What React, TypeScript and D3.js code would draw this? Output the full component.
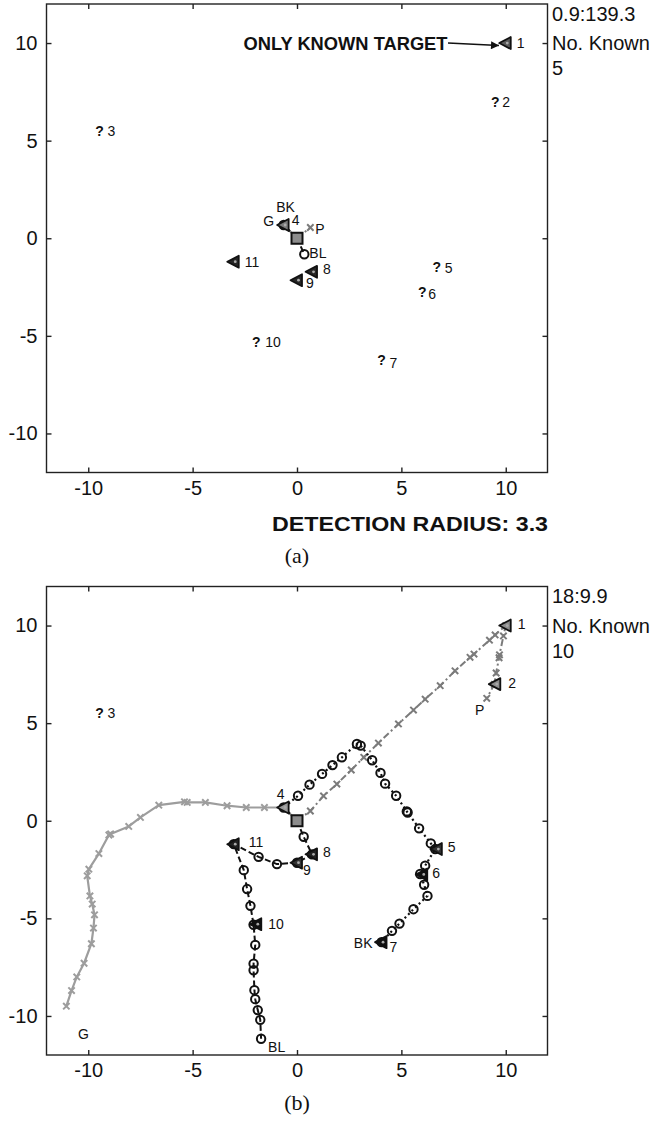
import React, { useEffect, useRef } from 'react';
import * as d3 from 'd3';

// ---- data ----
const tickValues = [-10, -5, 0, 5, 10];

const targetIds = ['1', '2', '3', '4', '5', '6', '7', '8', '9', '10', '11'];
const targetX = [10, 9.5, -9.46, -0.64, 6.7, 6.0, 4.05, 0.72, 0, -1.95, -3.03];
const targetY = [10, 7.0, 5.5, 0.68, -1.45, -2.75, -6.22, -1.72, -2.15, -5.3, -1.2];
const knownA = [true, false, false, true, false, false, false, true, true, false, true];
const knownB = [true, true, false, true, true, true, true, true, true, true, true];

// agent trails, panel (a)
const aGX = [0, -0.64];
const aGY = [0, 0.68];
const aBKX = [0, -0.64];
const aBKY = [0, 0.68];
const aPX = [0, 0.64];
const aPY = [0, 0.55];
const aBLX = [0, 0.35];
const aBLY = [0, -0.82];

// agent trails, panel (b)
const gX = [0, -0.64, -1.56, -2.43, -3.35, -4.39, -5.26, -5.39, -6.62, -7.5, -8.06, -8.93, -9.01, -9.49, -9.97, -10.05, -9.92, -9.81, -9.7, -9.75, -9.85, -10.2, -10.55, -10.8, -11.05];
const gY = [0, 0.68, 0.68, 0.68, 0.77, 0.94, 0.94, 0.97, 0.8, 0.17, -0.29, -0.68, -0.73, -1.68, -2.48, -2.82, -3.85, -4.27, -4.82, -5.5, -6.3, -7.3, -8.0, -8.7, -9.5];
const pX = [0, 0.64, 1.27, 1.91, 2.6, 3.2, 3.9, 4.86, 5.58, 6.14, 6.86, 7.57, 8.29, 8.48, 9.22, 9.49, 10, 9.89, 9.7, 9.68, 9.54, 9.45, 9.09];
const pY = [0, 0.5, 1.27, 1.88, 2.6, 3.25, 3.98, 4.96, 5.67, 6.23, 6.92, 7.68, 8.37, 8.54, 9.25, 9.52, 10, 9.47, 8.5, 8.35, 7.57, 6.98, 6.27];
const bkX = [0, -0.64, 0.05, 0.6, 1.2, 1.7, 2.15, 2.87, 3.05, 3.6, 4.0, 4.22, 4.75, 5.26, 5.3, 5.85, 6.41, 6.62, 6.14, 5.9, 6.09, 6.25, 5.58, 4.91, 4.55, 4.05];
const bkY = [0, 0.68, 1.28, 1.85, 2.4, 2.85, 3.25, 3.93, 3.85, 3.1, 2.45, 1.9, 1.28, 0.48, 0.42, -0.39, -1.16, -1.45, -2.3, -2.73, -3.28, -3.85, -4.53, -5.27, -5.64, -6.22];
const blX = [0, 0.32, 0.72, 0, -0.96, -1.84, -3.03, -2.55, -2.39, -2.23, -2.08, -2.0, -2.08, -2.08, -2.04, -2.0, -1.88, -1.76, -1.72];
const blY = [0, -0.82, -1.72, -2.15, -2.22, -1.85, -1.2, -2.53, -3.5, -4.36, -5.33, -6.36, -7.32, -7.66, -8.68, -9.14, -9.7, -10.2, -11.17];

const statusA = ['0.9:139.3', 'No. Known', '5'];
const statusB = ['18:9.9', 'No. Known', '10'];

// ---- layout / style ----
const FONT = 'Liberation Sans, Arial, Helvetica, sans-serif';
const X_RANGE: [number, number] = [46.5, 547.5];

// label offsets from the marker centre [dx, dy]
const labelOffA: Record<string, [number, number]> = {
  '1': [11, 0], '2': [7, 0], '3': [8, 0], '4': [8, -5], '5': [8, 1], '6': [6, 2],
  '7': [8, 3], '8': [11, -3], '9': [9, 3], '10': [9, 0], '11': [11, 0]
};
const labelOffB: Record<string, [number, number]> = {
  '1': [12, -2], '2': [13, -1], '3': [8, 0], '4': [-7, -13], '5': [11, -2], '6': [10, -1],
  '7': [8, 5], '8': [11, -2], '9': [6, 7], '10': [12, 0], '11': [15, -2]
};
const fillA: Record<string, string> = { '1': '#5a5a5a', '4': '#7a7a7a', '8': '#262626', '9': '#262626', '11': '#262626' };
const fillB: Record<string, string> = {
  '1': '#8c8c8c', '2': '#8c8c8c', '4': '#9a9a9a', '5': '#333', '6': '#111', '7': '#111',
  '8': '#222', '9': '#333', '10': '#111', '11': '#222'
};

type Trail = { xs: number[]; ys: number[]; color: string; width: number; dash: string | null; marker: 'x' | 'o' };
type AgentLabel = { text: string; x: number; y: number; dx: number; dy: number; anchor: string };

interface PanelCfg {
  top: number;
  bottom: number;
  known: boolean[];
  fills: Record<string, string>;
  labelOff: Record<string, [number, number]>;
  trails: Trail[];
  agentLabels: AgentLabel[];
  status: string[];
  caption: string;
  captionDy: number;
}

const styleG = { color: '#9d9d9d', width: 2.2, dash: null, marker: 'x' as const };
const styleP = { color: '#7b7b7b', width: 2, dash: '7,3,2,3', marker: 'x' as const };
const styleBK = { color: '#111', width: 2.2, dash: '2,3', marker: 'o' as const };
const styleBL = { color: '#111', width: 2, dash: '6,3', marker: 'o' as const };

const panels: PanelCfg[] = [
  {
    top: 4,
    bottom: 472.5,
    known: knownA,
    fills: fillA,
    labelOff: labelOffA,
    trails: [
      { xs: aGX, ys: aGY, ...styleG },
      { xs: aBKX, ys: aBKY, ...styleBK },
      { xs: aPX, ys: aPY, ...styleP },
      { xs: aBLX, ys: aBLY, ...styleBL }
    ],
    agentLabels: [
      { text: 'G', x: -0.64, y: 0.68, dx: -15, dy: -4, anchor: 'middle' },
      { text: 'BK', x: -0.64, y: 0.68, dx: 2, dy: -18, anchor: 'middle' },
      { text: 'P', x: 0.64, y: 0.55, dx: 5, dy: 1, anchor: 'start' },
      { text: 'BL', x: 0.35, y: -0.82, dx: 5, dy: -1, anchor: 'start' }
    ],
    status: statusA,
    caption: '(a)',
    captionDy: 90.5
  },
  {
    top: 586.5,
    bottom: 1055,
    known: knownB,
    fills: fillB,
    labelOff: labelOffB,
    trails: [
      { xs: gX, ys: gY, ...styleG },
      { xs: pX, ys: pY, ...styleP },
      { xs: bkX, ys: bkY, ...styleBK },
      { xs: blX, ys: blY, ...styleBL }
    ],
    agentLabels: [
      { text: 'P', x: 9.09, y: 6.27, dx: -7, dy: 12, anchor: 'middle' },
      { text: 'BK', x: 4.05, y: -6.22, dx: -9, dy: 1, anchor: 'end' },
      { text: 'G', x: -11.05, y: -9.5, dx: 17, dy: 28, anchor: 'middle' },
      { text: 'BL', x: -1.72, y: -11.17, dx: 7, dy: 8, anchor: 'start' }
    ],
    status: statusB,
    caption: '(b)',
    captionDy: 55
  }
];

export default function App() {
  const svgRef = useRef<SVGSVGElement>(null);

  useEffect(() => {
    if (!svgRef.current) return;
    const svg = d3.select(svgRef.current);
    svg.selectAll('*').remove();

    // arrowhead for the annotation
    svg.append('defs')
      .append('marker')
      .attr('id', 'arrow')
      .attr('viewBox', '0 0 10 10')
      .attr('refX', 10)
      .attr('refY', 5)
      .attr('markerWidth', 10)
      .attr('markerHeight', 8)
      .attr('markerUnits', 'userSpaceOnUse')
      .attr('orient', 'auto')
      .append('path')
      .attr('d', 'M0,0 L10,5 L0,10 Z')
      .attr('fill', '#111');

    const x = d3.scaleLinear().domain([-12, 12]).range(X_RANGE);

    panels.forEach((p, pi) => {
      const y = d3.scaleLinear().domain([-12, 12]).range([p.bottom, p.top]);
      const g = svg.append('g');

      // frame
      g.append('rect')
        .attr('x', X_RANGE[0])
        .attr('y', p.top)
        .attr('width', X_RANGE[1] - X_RANGE[0])
        .attr('height', p.bottom - p.top)
        .attr('fill', 'none')
        .attr('stroke', '#222')
        .attr('stroke-width', 1.4);

      const styleAxis = (sel: d3.Selection<SVGGElement, unknown, null, undefined>) => {
        sel.select('.domain').remove();
        sel.selectAll('line').attr('stroke', '#222').attr('stroke-width', 1.4);
        sel.selectAll('text')
          .attr('font-size', 20)
          .attr('font-family', FONT)
          .attr('fill', '#111');
      };

      g.append('g')
        .attr('transform', `translate(0,${p.bottom})`)
        .call(d3.axisBottom(x).tickValues(tickValues).tickSize(-5).tickPadding(8).tickFormat(d => String(d)))
        .call(styleAxis);
      g.append('g')
        .attr('transform', `translate(0,${p.top})`)
        .call(d3.axisTop(x).tickValues(tickValues).tickSize(-5).tickFormat(() => ''))
        .call(styleAxis);
      g.append('g')
        .attr('transform', `translate(${X_RANGE[0]},0)`)
        .call(d3.axisLeft(y).tickValues(tickValues).tickSize(-5).tickPadding(9).tickFormat(d => String(d)))
        .call(styleAxis);
      g.append('g')
        .attr('transform', `translate(${X_RANGE[1]},0)`)
        .call(d3.axisRight(y).tickValues(tickValues).tickSize(-5).tickFormat(() => ''))
        .call(styleAxis);

      // trails
      const line = d3.line<[number, number]>().x(d => x(d[0])).y(d => y(d[1]));
      p.trails.forEach(t => {
        const pts = t.xs.map((v, i) => [v, t.ys[i]] as [number, number]);
        g.append('path')
          .datum(pts)
          .attr('d', line)
          .attr('fill', 'none')
          .attr('stroke', t.color)
          .attr('stroke-width', t.width)
          .attr('stroke-dasharray', t.dash)
          .attr('stroke-linejoin', 'round');
        const mk = g.append('g').selectAll('g')
          .data(pts.slice(1))
          .join('g')
          .attr('transform', d => `translate(${x(d[0])},${y(d[1])})`);
        if (t.marker === 'x') {
          mk.append('path')
            .attr('d', 'M-3.2,-3.2L3.2,3.2M-3.2,3.2L3.2,-3.2')
            .attr('stroke', t.color)
            .attr('stroke-width', 2);
        } else {
          mk.append('circle')
            .attr('r', 4.2)
            .attr('fill', 'none')
            .attr('stroke', t.color)
            .attr('stroke-width', 2);
        }
      });

      // base square
      g.append('rect')
        .attr('x', x(0) - 5.5)
        .attr('y', y(0) - 5.5)
        .attr('width', 11)
        .attr('height', 11)
        .attr('fill', '#8c8c8c')
        .attr('stroke', '#111')
        .attr('stroke-width', 2);

      // targets
      targetIds.forEach((id, i) => {
        const cx = x(targetX[i]);
        const cy = y(targetY[i]);
        if (p.known[i]) {
          g.append('path')
            .attr('d', `M${cx - 6.5},${cy} L${cx + 5},${cy - 6} L${cx + 5},${cy + 6} Z`)
            .attr('fill', p.fills[id] || '#222')
            .attr('stroke', '#111')
            .attr('stroke-width', 1.8)
            .attr('stroke-linejoin', 'round');
          g.append('circle')
            .attr('cx', cx + 1.5)
            .attr('cy', cy)
            .attr('r', 1.4)
            .attr('fill', '#aaa');
        } else {
          g.append('text')
            .attr('x', cx)
            .attr('y', cy + 5)
            .attr('text-anchor', 'middle')
            .attr('font-family', FONT)
            .attr('font-weight', 'bold')
            .attr('font-size', 14)
            .attr('fill', '#111')
            .text('?');
        }
        const [dx, dy] = p.labelOff[id];
        g.append('text')
          .attr('x', cx + dx)
          .attr('y', cy + dy + 5)
          .attr('font-family', FONT)
          .attr('font-size', 14)
          .attr('fill', '#111')
          .text(id);
      });

      // agent labels
      p.agentLabels.forEach(a => {
        g.append('text')
          .attr('x', x(a.x) + a.dx)
          .attr('y', y(a.y) + a.dy + 5)
          .attr('text-anchor', a.anchor)
          .attr('font-family', FONT)
          .attr('font-size', 14)
          .attr('fill', '#111')
          .text(a.text);
      });

      // status text on the right
      const statusDy = [16.5, 46, 71];
      p.status.forEach((s, i) => {
        g.append('text')
          .attr('x', 552)
          .attr('y', p.top + statusDy[i])
          .attr('font-family', FONT)
          .attr('font-size', 20)
          .attr('fill', '#111')
          .text(s);
      });

      if (pi === 0) {
        g.append('text')
          .attr('x', 243.5)
          .attr('y', y(10) + 6.5)
          .attr('font-family', FONT)
          .attr('font-weight', 'bold')
          .attr('font-size', 18)
          .attr('textLength', 204)
          .attr('lengthAdjust', 'spacingAndGlyphs')
          .attr('fill', '#111')
          .text('ONLY KNOWN TARGET');
        g.append('line')
          .attr('x1', 448)
          .attr('y1', y(10))
          .attr('x2', 499)
          .attr('y2', y(10) + 2.5)
          .attr('stroke', '#111')
          .attr('stroke-width', 1.6)
          .attr('marker-end', 'url(#arrow)');
        g.append('text')
          .attr('x', 548)
          .attr('y', p.bottom + 58)
          .attr('text-anchor', 'end')
          .attr('font-family', FONT)
          .attr('font-weight', 'bold')
          .attr('font-size', 21)
          .attr('textLength', 276)
          .attr('lengthAdjust', 'spacingAndGlyphs')
          .attr('fill', '#111')
          .text('DETECTION RADIUS: 3.3');
      }

      g.append('text')
        .attr('x', x(0))
        .attr('y', p.bottom + p.captionDy)
        .attr('text-anchor', 'middle')
        .attr('font-family', 'Liberation Serif, Times New Roman, serif')
        .attr('font-size', 22)
        .attr('fill', '#111')
        .text(p.caption);
    });
  }, []);

  return (
    <div style={{ position: 'absolute', left: 0, top: 0 }}>
      <svg ref={svgRef} width={660} height={1121} style={{ display: 'block', background: '#fff' }} />
    </div>
  );
}
